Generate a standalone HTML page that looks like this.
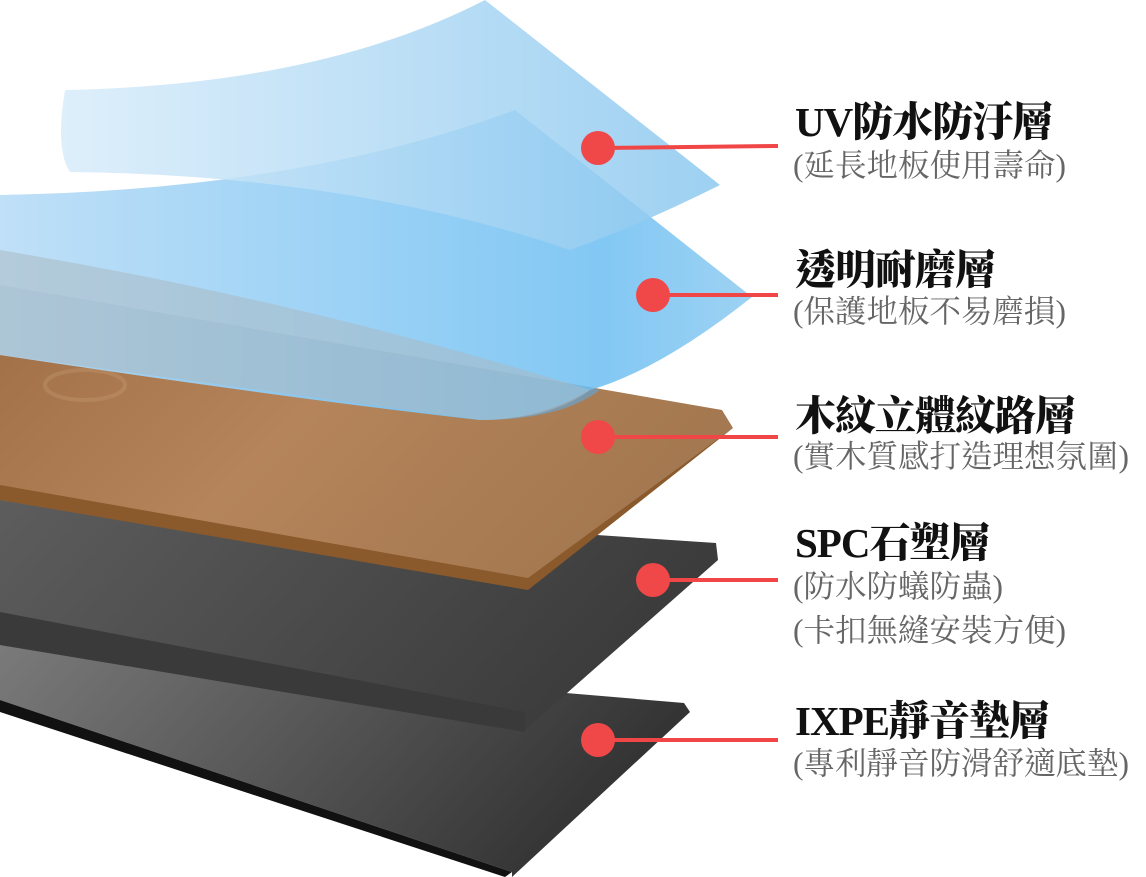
<!DOCTYPE html>
<html><head><meta charset="utf-8"><style>
html,body{margin:0;padding:0;background:#fff;}
body{width:1146px;height:877px;overflow:hidden;position:relative;}
svg{position:absolute;left:0;top:0;}
.t{position:absolute;left:795px;font-family:"Liberation Serif","Noto Serif CJK TC","Noto Serif CJK SC",serif;font-weight:900;font-size:41px;color:#111;line-height:1;white-space:nowrap;letter-spacing:-1px;}
.s{position:absolute;left:793px;font-family:"Liberation Serif","Noto Serif CJK TC","Noto Serif CJK SC",serif;font-size:31.5px;color:#666;line-height:1;white-space:nowrap;}
</style></head><body>
<svg width="1146" height="877" viewBox="0 0 1146 877">
<defs>
<linearGradient id="ix" x1="0" y1="0" x2="1" y2="0.3"><stop offset="0" stop-color="#7a7a7a"/><stop offset="1" stop-color="#333"/></linearGradient>
<linearGradient id="spc" x1="0" y1="0" x2="1" y2="0.3"><stop offset="0" stop-color="#5d5d5d"/><stop offset="1" stop-color="#3b3b3b"/></linearGradient>
<linearGradient id="wd" x1="0" y1="0" x2="1" y2="0.4"><stop offset="0" stop-color="#a06e45"/><stop offset="0.5" stop-color="#b5845a"/><stop offset="1" stop-color="#a47850"/></linearGradient>
<linearGradient id="gr" x1="0" y1="0" x2="1" y2="0"><stop offset="0" stop-color="#a6b4bc"/><stop offset="1" stop-color="#7a96a8"/></linearGradient>
<linearGradient id="f1" x1="0" y1="0" x2="1" y2="0"><stop offset="0" stop-color="#d8ecfa"/><stop offset="1" stop-color="#8cc8ef"/></linearGradient>
<linearGradient id="f2" x1="0" y1="0" x2="1" y2="0"><stop offset="0" stop-color="#b4daf6"/><stop offset="0.8" stop-color="#6cbef2"/><stop offset="1" stop-color="#8ccaf0"/></linearGradient>
</defs>
<!-- IXPE -->
<polygon points="0,645 684,703 690,712 512,877 0,877" fill="url(#ix)"/>
<polygon points="0,700 512,872 512,877 0,877" fill="#fff"/>
<polygon points="0,700 512,872 505,877 0,712" fill="#111"/>
<!-- SPC -->
<polygon points="0,495 716,543 718,560 525,730 0,645" fill="url(#spc)"/>
<polygon points="0,612 525,712 525,732 0,645" fill="#3a3a3a"/>
<!-- wood -->
<polygon points="0,285 722,410 733,428 525,588 0,500" fill="url(#wd)"/>
<polygon points="0,485 528,578 733,428 528,590 0,500" fill="#8a5a2c"/>
<ellipse cx="85" cy="385" rx="40" ry="15" fill="none" stroke="#c79e74" stroke-width="4" opacity="0.35"/>
<!-- grey (wood under film) -->
<path d="M0,285 L600,390 Q560,420 480,420 Q300,400 0,355 Z" fill="url(#gr)"/>
<!-- film 2 -->
<path d="M0,195 Q300,190 515,110 L752,297 Q660,370 590,390 Q540,420 480,420 Q300,400 0,355 Z" fill="url(#f2)" opacity="0.85"/>
<path d="M0,250 Q300,300 590,390 Q550,420 480,420 Q300,395 0,355 Z" fill="#a9b9c3" opacity="0.55"/>
<!-- film 1 -->
<path d="M65,90 Q320,85 485,0 L720,185 Q640,225 570,250 Q350,175 70,172 Q55,150 65,90 Z" fill="url(#f1)" opacity="0.85"/>
<!-- dots -->
<g stroke="#f04646" stroke-width="4">
<line x1="598" y1="148" x2="778" y2="146"/>
<line x1="653" y1="295" x2="778" y2="295"/>
<line x1="598" y1="437" x2="778" y2="437"/>
<line x1="653" y1="580" x2="778" y2="580"/>
<line x1="598" y1="740" x2="778" y2="740"/>
</g>
<g fill="#f04848">
<circle cx="598" cy="148" r="17"/><circle cx="653" cy="295" r="17"/><circle cx="598" cy="437" r="17"/><circle cx="653" cy="580" r="17"/><circle cx="598" cy="740" r="17"/>
</g>
</svg>
<div class="t" style="top:102px">UV防水防汙層</div>
<div class="s" style="top:150px">(延長地板使用壽命)</div>
<div class="t" style="top:250px">透明耐磨層</div>
<div class="s" style="top:296px">(保護地板不易磨損)</div>
<div class="t" style="top:396px">木紋立體紋路層</div>
<div class="s" style="top:441px">(實木質感打造理想氛圍)</div>
<div class="t" style="top:523px">SPC石塑層</div>
<div class="s" style="top:571px">(防水防蟻防蟲)</div>
<div class="s" style="top:615px">(卡扣無縫安裝方便)</div>
<div class="t" style="top:701px">IXPE靜音墊層</div>
<div class="s" style="top:748px">(專利靜音防滑舒適底墊)</div>
</body></html>
